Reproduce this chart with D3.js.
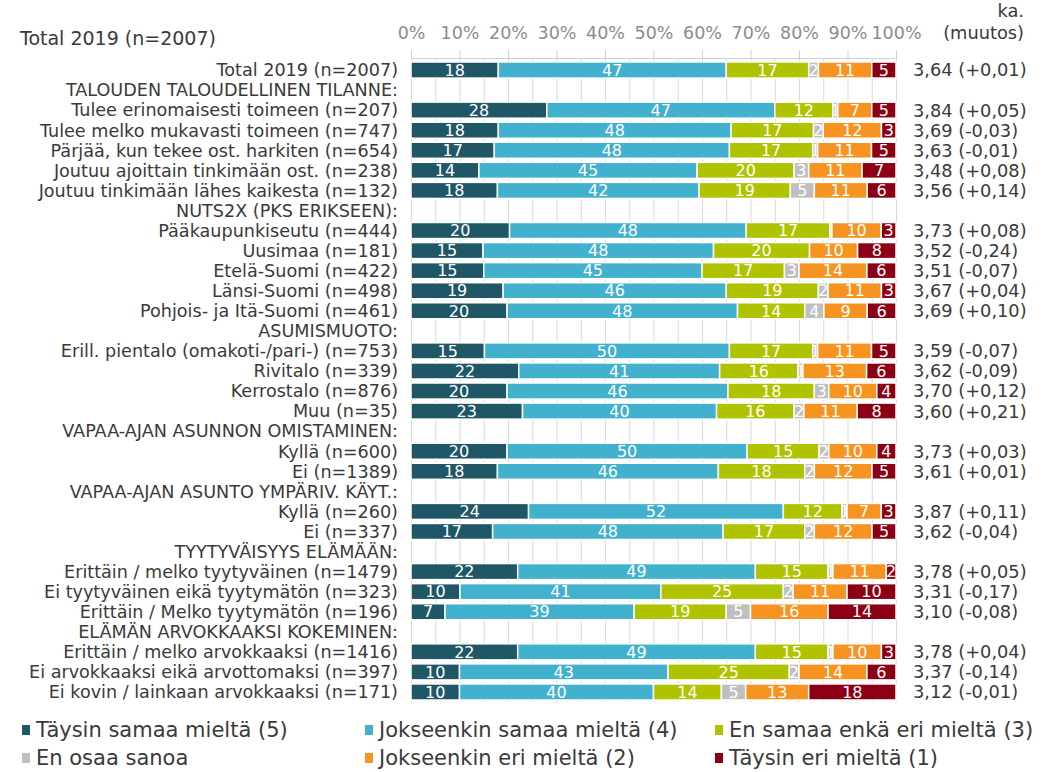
<!DOCTYPE html>
<html><head><meta charset="utf-8">
<script src="https://cdn.jsdelivr.net/npm/d3@7"></script>
<style>
body{margin:0;background:#fff}
text{font-family:"DejaVu Sans",Verdana,sans-serif}
</style>
</head><body>
<svg id="c" width="1049" height="772"></svg>
<script>
const rowLabels = [
  "Total 2019 (n=2007)",
  "TALOUDEN TALOUDELLINEN TILANNE:",
  "Tulee erinomaisesti toimeen (n=207)",
  "Tulee melko mukavasti toimeen (n=747)",
  "Pärjää, kun tekee ost. harkiten (n=654)",
  "Joutuu ajoittain tinkimään ost. (n=238)",
  "Joutuu tinkimään lähes kaikesta (n=132)",
  "NUTS2X (PKS ERIKSEEN):",
  "Pääkaupunkiseutu (n=444)",
  "Uusimaa (n=181)",
  "Etelä-Suomi (n=422)",
  "Länsi-Suomi (n=498)",
  "Pohjois- ja Itä-Suomi (n=461)",
  "ASUMISMUOTO:",
  "Erill. pientalo (omakoti-/pari-) (n=753)",
  "Rivitalo (n=339)",
  "Kerrostalo (n=876)",
  "Muu (n=35)",
  "VAPAA-AJAN ASUNNON OMISTAMINEN:",
  "Kyllä (n=600)",
  "Ei (n=1389)",
  "VAPAA-AJAN ASUNTO YMPÄRIV. KÄYT.:",
  "Kyllä (n=260)",
  "Ei (n=337)",
  "TYYTYVÄISYYS ELÄMÄÄN:",
  "Erittäin / melko tyytyväinen (n=1479)",
  "Ei tyytyväinen eikä tyytymätön (n=323)",
  "Erittäin / Melko tyytymätön (n=196)",
  "ELÄMÄN ARVOKKAAKSI KOKEMINEN:",
  "Erittäin / melko arvokkaaksi (n=1416)",
  "Ei arvokkaaksi eikä arvottomaksi (n=397)",
  "Ei kovin / lainkaan arvokkaaksi (n=171)"
];
// null = heading row (no bar)
const s5  = [18,null,28,18,17,14,18,null,20,15,15,19,20,null,15,22,20,23,null,20,18,null,24,17,null,22,10,7,null,22,10,10];
const s4  = [47,null,47,48,48,45,42,null,48,48,45,46,48,null,50,41,46,40,null,50,46,null,52,48,null,49,41,39,null,49,43,40];
const s3  = [17,null,12,17,17,20,19,null,17,20,17,19,14,null,17,16,18,16,null,15,18,null,12,17,null,15,25,19,null,15,25,14];
const sEos= [2,null,1,2,1,3,5,null,0.4,0,3,2,4,null,1,1,3,2,null,2,2,null,1,2,null,1,2,5,null,1,2,5];
const s2  = [11,null,7,12,11,11,11,null,10,10,14,11,9,null,11,13,10,11,null,10,12,null,7,12,null,11,11,16,null,10,14,13];
const s1  = [5,null,5,3,5,7,6,null,3,8,6,3,6,null,5,6,4,8,null,4,5,null,3,5,null,2,10,14,null,3,6,18];
const means = ["3,64 (+0,01)",null,"3,84 (+0,05)","3,69 (-0,03)","3,63 (-0,01)","3,48 (+0,08)","3,56 (+0,14)",null,
  "3,73 (+0,08)","3,52 (-0,24)","3,51 (-0,07)","3,67 (+0,04)","3,69 (+0,10)",null,
  "3,59 (-0,07)","3,62 (-0,09)","3,70 (+0,12)","3,60 (+0,21)",null,
  "3,73 (+0,03)","3,61 (+0,01)",null,"3,87 (+0,11)","3,62 (-0,04)",null,
  "3,78 (+0,05)","3,31 (-0,17)","3,10 (-0,08)",null,"3,78 (+0,04)","3,37 (-0,14)","3,12 (-0,01)"];
const seriesNames = ["Täysin samaa mieltä (5)","Jokseenkin samaa mieltä (4)","En samaa enkä eri mieltä (3)","En osaa sanoa","Jokseenkin eri mieltä (2)","Täysin eri mieltä (1)"];
const seriesKeys = ["s5","s4","s3","eos","s2","s1"];
const colors = ["#1f5767","#41b1cd","#afc300","#bfbfbf","#f79321","#8b0015"];
const tickValues = [0,0.1,0.2,0.3,0.4,0.5,0.6,0.7,0.8,0.9,1];
const topTitle = "Total 2019 (n=2007)";

const rows = rowLabels.map((l,i)=>({i, label:l, heading: s5[i]==null, s5:s5[i], s4:s4[i], s3:s3[i], eos:sEos[i], s2:s2[i], s1:s1[i], mean:means[i]}));
const dataRows = rows.filter(r=>!r.heading);

const svg = d3.select("#c");
const x = d3.scaleLinear().domain([0,1]).range([411,896]);
const y = d3.scaleBand().domain(rows.map(r=>r.i)).range([60,702]).paddingInner(0.2).paddingOuter(0.1);
const color = d3.scaleOrdinal().domain(seriesKeys).range(colors);
const axisY = 58;

// grid
const grid = svg.append("g").attr("transform",`translate(0,${axisY})`)
  .call(d3.axisTop(x).tickValues(d3.range(0,21).map(k=>k/20)).tickSize(-(702-axisY)).tickFormat(""));
grid.select(".domain").remove();
grid.selectAll("line").attr("stroke","#d9d9d9");

// top axis
const ax = svg.append("g").attr("transform",`translate(0,${axisY})`)
  .call(d3.axisTop(x).tickValues(tickValues).tickFormat(d3.format(".0%")).tickSize(8).tickPadding(11));
ax.select(".domain").attr("stroke","#d0d0d0");
ax.selectAll(".tick line").attr("stroke","#d0d0d0");
ax.selectAll("text").attr("font-size",17.5).attr("fill","#8c8c8c").attr("font-family","DejaVu Sans");

// stack
const stack = d3.stack().keys(seriesKeys).offset(d3.stackOffsetExpand);
const stacked = stack(dataRows);
const defs = svg.append("defs");
const barG = svg.append("g");
stacked.forEach((ser,si)=>{
  ser.forEach((seg,j)=>{
    const r = seg.data;
    const v = r[ser.key];
    if(!v) return;
    const x0 = x(seg[0]), x1 = x(seg[1]);
    const id = `clip-${si}-${r.i}`;
    defs.append("clipPath").attr("id",id).append("rect")
      .attr("x",x0+0.75).attr("y",y(r.i)).attr("width",Math.max(0,x1-x0-1.5)).attr("height",y.bandwidth());
    barG.append("rect").attr("x",x0).attr("y",y(r.i)).attr("width",x1-x0).attr("height",y.bandwidth())
      .attr("fill",color(ser.key)).attr("stroke","#fff").attr("stroke-width",1.5);
    const lab = Math.round(v);
    if(lab>0){
      barG.append("text").attr("clip-path",`url(#${id})`)
        .attr("x",(x0+x1)/2).attr("y",y(r.i)+y.bandwidth()/2).attr("dy","0.36em")
        .attr("text-anchor","middle").attr("font-size",16).attr("fill","#fff")
        .text(lab);
    }
  });
});

// row labels
svg.append("g").selectAll("text").data(rows).join("text")
  .attr("x",398).attr("y",d=>y(d.i)+y.bandwidth()/2).attr("dy","0.36em")
  .attr("text-anchor","end").attr("font-size",17.6).attr("fill","#3a3a3a").text(d=>d.label);

// means
svg.append("g").selectAll("text").data(dataRows).join("text")
  .attr("x",913).attr("y",d=>y(d.i)+y.bandwidth()/2).attr("dy","0.36em")
  .attr("font-size",17.8).attr("fill","#3a3a3a").text(d=>d.mean);

// headers
svg.append("text").attr("x",20).attr("y",38).attr("dy","0.36em").attr("font-size",19).attr("fill","#3a3a3a").text(topTitle);
svg.append("text").attr("x",1024).attr("y",11).attr("dy","0.36em").attr("text-anchor","end").attr("font-size",17.8).attr("fill","#3a3a3a").text("ka.");
svg.append("text").attr("x",1024).attr("y",33).attr("dy","0.36em").attr("text-anchor","end").attr("font-size",17.8).attr("fill","#3a3a3a").text("(muutos)");

// legend
const legX = [22,365,715], legY = [729,757];
const leg = svg.append("g").selectAll("g").data(seriesKeys).join("g")
  .attr("transform",(d,i)=>`translate(${legX[i%3]},${legY[Math.floor(i/3)]})`);
leg.append("rect").attr("x",0).attr("y",-4).attr("width",8).attr("height",10).attr("fill",d=>color(d));
leg.append("text").attr("x",14).attr("y",0).attr("dy","0.36em").attr("font-size",21).attr("fill","#3a3a3a")
  .text((d,i)=>seriesNames[i]);
</script>
</body></html>
